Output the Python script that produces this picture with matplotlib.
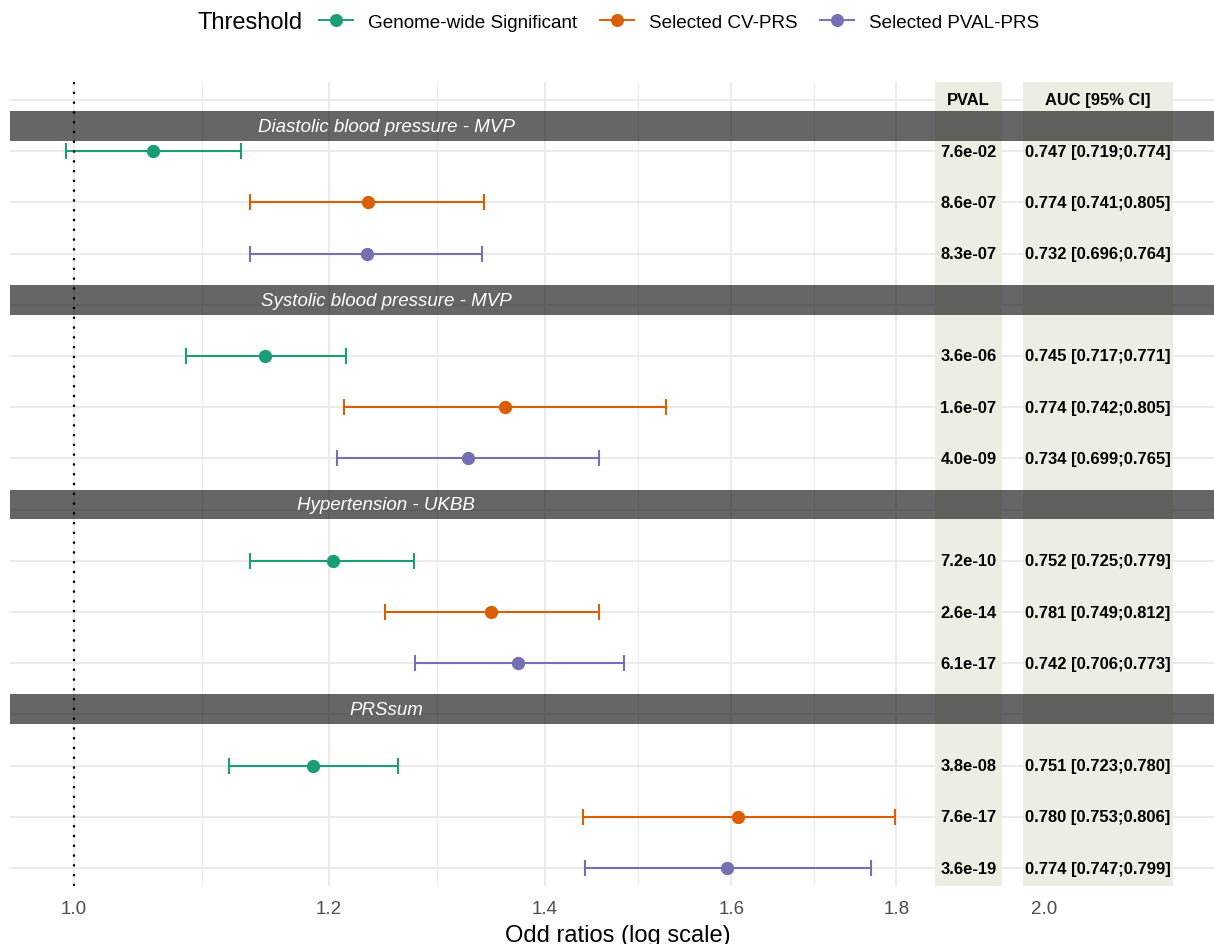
import numpy as np
import matplotlib
matplotlib.use("Agg")
import matplotlib.pyplot as plt
from matplotlib.lines import Line2D
from matplotlib.patches import Rectangle
from matplotlib.ticker import NullLocator, FixedLocator, FixedFormatter
import matplotlib.transforms as mtransforms

plt.rcParams['font.family'] = ['Liberation Sans', 'DejaVu Sans']

# ---------------- data ----------------
groups = ["Diastolic blood pressure - MVP", "Systolic blood pressure - MVP",
          "Hypertension - UKBB", "PRSsum"]
thresholds = ["Genome-wide Significant", "Selected CV-PRS", "Selected PVAL-PRS"]
colors = ["#1B9E77", "#D95F02", "#7570B3"]

odds    = [1.058, 1.234, 1.233, 1.146, 1.361, 1.325, 1.203, 1.347, 1.374, 1.186, 1.607, 1.595]
ci_low  = [0.994, 1.134, 1.134, 1.083, 1.213, 1.207, 1.134, 1.249, 1.276, 1.117, 1.439, 1.441]
ci_high = [1.127, 1.341, 1.339, 1.215, 1.527, 1.455, 1.275, 1.455, 1.482, 1.261, 1.798, 1.768]
pvals = ["7.6e-02", "8.6e-07", "8.3e-07",
         "3.6e-06", "1.6e-07", "4.0e-09",
         "7.2e-10", "2.6e-14", "6.1e-17",
         "3.8e-08", "7.6e-17", "3.6e-19"]
aucs = ["0.747 [0.719;0.774]", "0.774 [0.741;0.805]", "0.732 [0.696;0.764]",
        "0.745 [0.717;0.771]", "0.774 [0.742;0.805]", "0.734 [0.699;0.765]",
        "0.752 [0.725;0.779]", "0.781 [0.749;0.812]", "0.742 [0.706;0.773]",
        "0.751 [0.723;0.780]", "0.780 [0.753;0.806]", "0.774 [0.747;0.799]"]
x_breaks = [1.0, 1.2, 1.4, 1.6, 1.8, 2.0]
x_labels = ["1.0", "1.2", "1.4", "1.6", "1.8", "2.0"]
pval_header = "PVAL"
auc_header = "AUC [95% CI]"
x_title = "Odd ratios (log scale)"
legend_title = "Threshold"

# ---------------- layout ----------------
W, H = 1214, 945
fig = plt.figure(figsize=(W / 100, H / 100), dpi=100)
ax_left, ax_right, ax_top, ax_bottom = 10, 1214, 83, 887
ax = fig.add_axes([ax_left / W, 1 - ax_bottom / H, (ax_right - ax_left) / W, (ax_bottom - ax_top) / H])
ax.set_xscale('log')
ax.set_xlim(0.9553, 2.259)
ax.set_ylim(15.35, -0.35)
for s in ax.spines.values():
    s.set_visible(False)

n_rows = 16
strip_centers = [0.51, 3.91, 7.9, 11.9]
strip_h = 0.58
pval_col = (1.851, 1.941)
auc_col = (1.971, 2.193)
strip_text_x = 1.25

# grid
for xb in x_breaks:
    ax.axvline(xb, color="#EBEBEB", lw=1.5, zorder=0)
for a, b in zip(x_breaks[:-1], x_breaks[1:]):
    ax.axvline(np.sqrt(a * b), color="#EBEBEB", lw=0.9, zorder=0)
for r in range(n_rows):
    ax.axhline(r, color="#EBEBEB", lw=1.5, zorder=0)

# beige columns
beige = "#EDEDE3"
ax.axvspan(*pval_col, color=beige, lw=0, zorder=1)
ax.axvspan(*auc_col, color=beige, lw=0, zorder=1)

# reference line
ax.axvline(1.0, color="black", lw=1.6, linestyle=(0, (1, 3.4)), zorder=5)

# strips
trans = mtransforms.blended_transform_factory(ax.transAxes, ax.transData)
for g, name in enumerate(groups):
    yc = strip_centers[g]
    ax.add_patch(Rectangle((0, yc - strip_h / 2), 1, strip_h, transform=trans,
                           facecolor="black", alpha=0.6, lw=0, zorder=3))
    ax.text(strip_text_x, yc, name, color="white", fontstyle="italic", fontsize=13.5,
            ha="center", va="center", zorder=6)

# headers
pval_x = np.sqrt(pval_col[0] * pval_col[1])
auc_x = np.sqrt(auc_col[0] * auc_col[1])
ax.text(pval_x, 0, pval_header, fontweight="bold", fontsize=11.9, ha="center", va="center", zorder=6)
ax.text(auc_x, 0, auc_header, fontweight="bold", fontsize=11.9, ha="center", va="center", zorder=6)

# points and error bars
for i in range(len(odds)):
    g, t = divmod(i, 3)
    row = 4 * g + 1 + t
    ax.errorbar([odds[i]], [row],
                xerr=[[odds[i] - ci_low[i]], [ci_high[i] - odds[i]]],
                fmt="none", ecolor=colors[t], elinewidth=1.5,
                capsize=5.8, capthick=1.5, zorder=4)
    ax.plot([odds[i]], [row], "o", color=colors[t], ms=9.6, mew=0, zorder=4.5)
    ax.text(pval_x, row, pvals[i], fontweight="bold", fontsize=11.9, ha="center", va="center", zorder=6)
    ax.text(auc_x, row, aucs[i], fontweight="bold", fontsize=11.9, ha="center", va="center", zorder=6)

# axes ticks
ax.xaxis.set_major_locator(FixedLocator(x_breaks))
ax.xaxis.set_major_formatter(FixedFormatter(x_labels))
ax.xaxis.set_minor_locator(NullLocator())
ax.set_yticks([])
ax.tick_params(axis="x", length=0, labelsize=13.5, labelcolor="#4D4D4D", pad=10)

fig.text(0.5 + (ax_left - (W - ax_right)) / (2 * W) + 6 / W, 1 - 942 / H, x_title, fontsize=17,
         ha="center", va="baseline")

# legend
handles = [Line2D([0], [0], color=c, marker="o", ms=9.4, mew=0, lw=1.4) for c in colors]
fig.text(198 / W, 1 - 23 / H, legend_title, fontsize=17, ha="left", va="center")
fig.legend(handles, thresholds, loc="center left", bbox_to_anchor=(319 / W, 1 - 23 / H),
           ncol=3, frameon=False, fontsize=13.6, handlelength=1.8, handletextpad=0.8,
           columnspacing=1.2, borderpad=0, borderaxespad=0)

fig.savefig("out.png", dpi=100)
